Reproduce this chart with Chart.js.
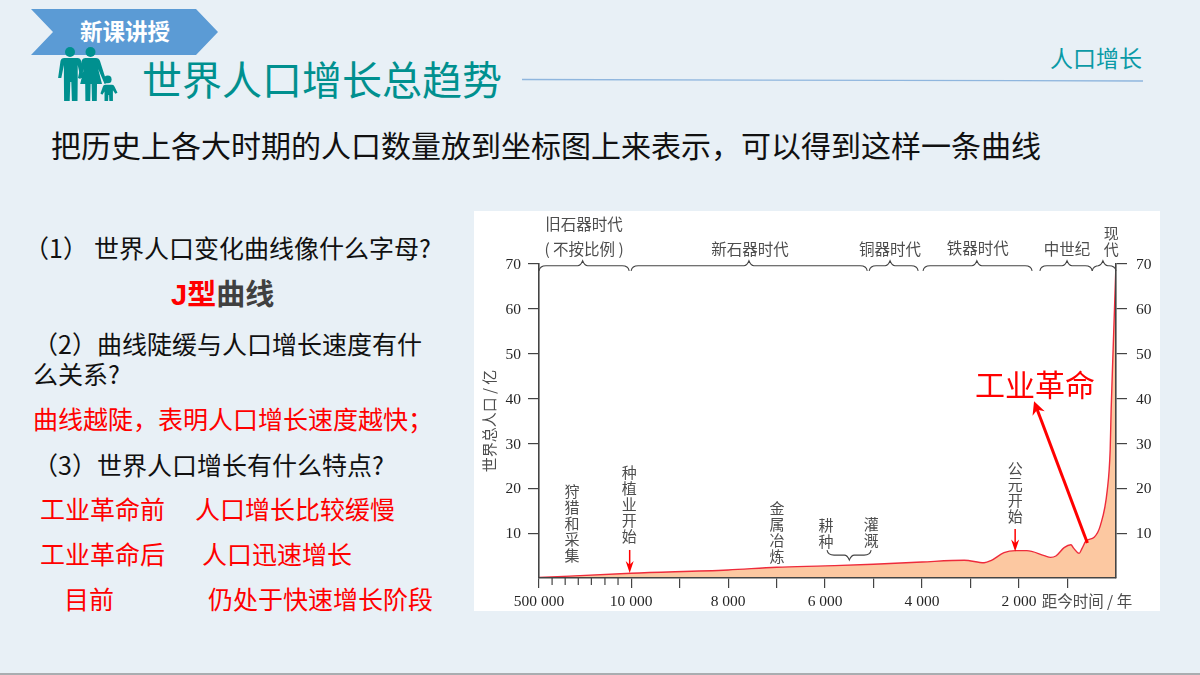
<!DOCTYPE html>
<html lang="zh">
<head>
<meta charset="utf-8">
<title>世界人口增长总趋势</title>
<script src="https://cdn.jsdelivr.net/npm/chart.js@4"></script>
<style>
  html, body { margin: 0; padding: 0; }
  body { width: 1200px; height: 675px; position: relative; overflow: hidden; background: #e8f0f6; font-family: "Noto Sans CJK SC", sans-serif; }
  .t { position: absolute; white-space: pre; line-height: 1; transform: translateY(-50%); font-size: 25px; color: #111; }
  .red { color: #ff0000; }
  #deco { position: absolute; left: 0; top: 0; }
  #panel { position: absolute; left: 474px; top: 211px; width: 686px; height: 400px; background: #fff; }
  #bottomline { position: absolute; left: 0; bottom: 0; width: 1200px; height: 2px; background: #a9adb0; }
</style>
</head>
<body>
<svg id="deco" width="1200" height="675">
  <polygon points="31,9 196,9 218,32 196,55 31,55 53,32" fill="#5b9bd5"/>
  <line x1="522" y1="79.5" x2="1143" y2="81" stroke="#8fb6de" stroke-width="1.3"/>
  <g fill="#00908f">
    <!-- man -->
    <circle cx="70" cy="52" r="5"/>
    <path d="M62.5 58h15q3 0 3.6 3l2.6 17h-3.2l-2.8-13v15l-.2 21h-5.6l-.6-19h-1l-.6 19h-5.6l-.2-21V65l-2.6 13h-3.2l2.4-17q.6-3 3.8-3z"/>
    <!-- woman -->
    <circle cx="90.5" cy="52" r="5"/>
    <path d="M85 58h11q3 0 4 3l7 22-2.4 1-6.4-15 3.8 15h-5l-.2 17h-4.8l-.4-17h-1l-.4 17h-4.8l-.2-17h-5l3.6-15-3.4 10-2.4-1 3.6-17q.8-3 4-3z"/>
    <!-- child -->
    <g transform="translate(108 101) scale(1.2) translate(-108 -101)">
      <circle cx="107.8" cy="83" r="3.2"/>
      <path d="M104 87.5h7.5q1.4 0 2 1.6l2.4 5-1.8.8-2-2.8v9h-3l-.2-5h-.6l-.2 5h-3v-8l-1.8 2.6-1.6-1 2-5.6q.3-1.6 2-1.6z"/>
    </g>
  </g>
</svg>

<div class="t" style="left:80px;top:30px;font-size:22.5px;font-weight:700;color:#fff">新课讲授</div>
<div class="t" style="left:142px;top:78px;font-size:40px;color:#00908f">世界人口增长总趋势</div>
<div class="t" style="left:1050px;top:57px;font-size:23px;color:#0a9aa6">人口增长</div>
<div class="t" style="left:51px;top:144px;font-size:30px">把历史上各大时期的人口数量放到坐标图上来表示，可以得到这样一条曲线</div>

<div class="t" style="left:24px;top:247px">（1）</div>
<div class="t" style="left:94px;top:247px">世界人口变化曲线像什么字母?</div>
<div class="t" style="left:171px;top:294px;font-size:29px;font-weight:700;color:#404040"><span class="red" style="font-family:'Liberation Sans'">J</span><span class="red">型</span>曲线</div>
<div class="t" style="left:33px;top:343px">（2）曲线陡缓与人口增长速度有什</div>
<div class="t" style="left:33px;top:373px">么关系?</div>
<div class="t red" style="left:33px;top:418px">曲线越陡，表明人口增长速度越快；</div>
<div class="t" style="left:33px;top:464px">（3）世界人口增长有什么特点?</div>
<div class="t red" style="left:40px;top:508px">工业革命前</div>
<div class="t red" style="left:195px;top:508px">人口增长比较缓慢</div>
<div class="t red" style="left:40px;top:553px">工业革命后</div>
<div class="t red" style="left:202px;top:553px">人口迅速增长</div>
<div class="t red" style="left:64px;top:598px">目前</div>
<div class="t red" style="left:208px;top:598px">仍处于快速增长阶段</div>

<div id="panel"><canvas id="popChart" width="686" height="400"></canvas></div>
<div id="bottomline"></div>

<script>
// 距今千年 (500 000 年一段是压缩画的, 放在轴的 11.9 处)
const yearsAgo = [11.9, 10, 8, 7, 6, 5, 4, 3.13, 2.72, 2.58, 2.31, 2.07, 1.84, 1.48, 1.35, 1.24, 1.07, 0.93, 0.87, 0.76, 0.70, 0.62, 0.45, 0.32, 0.18, 0.12, 0.10, 0.056, 0];
// 世界人口 (亿)
const population = [0.1, 1.05, 1.8, 2.4, 2.7, 3.05, 3.57, 3.95, 3.4, 3.87, 5.65, 6.1, 6.1, 5.0, 4.6, 4.9, 6.76, 7.4, 6.6, 5.5, 6.6, 8.25, 9.1, 11.8, 19.6, 28.6, 37.5, 52, 70];

// x 轴刻度
const xTicks = [11.9, 10, 9, 8, 7, 6, 5, 4, 3, 2, 1];
const xTickLabels = ["500 000", "10 000", "", "8 000", "", "6 000", "", "4 000", "", "2 000", ""];
const xMinorTicks = [11.63, 11.36, 11.09, 10.82, 10.54, 10.27];

// 时期的大括号 [左, 顶点, 右]
const eraBraces = [
  [11.9, 11.0, 10.04],
  [10.0, 7.57, 5.13],
  [5.09, 4.66, 4.08],
  [3.98, 2.87, 1.73],
  [1.57, 1.01, 0.49],
  [0.49, 0.27, 0],
];

const serif = "'Liberation Serif', serif";
const cjk = "'Noto Sans CJK SC', sans-serif";
const axisColor = "#444";
const textColor = "#262626";
const noteColor = "#4d4d4d";

const scaleFont = { family: serif, size: 15.5 };
const hideZero = (ctx) => (ctx.tick && ctx.tick.value === 0 ? "rgba(0,0,0,0)" : axisColor);

/* Source Code to draw the notes on top of the chart */
const notesPlugin = {
  id: "notes",
  afterDraw(chart) {
    const { ctx } = chart;
    const x = chart.scales.x;
    const y = chart.scales.y;
    const px = (v) => x.getPixelForValue(v);
    const py = (v) => y.getPixelForValue(v);

    const label = (text, xv, yv, size = 15.5, color = noteColor) => {
      ctx.font = `${size}px ${cjk}`;
      ctx.fillStyle = color;
      ctx.textAlign = "center";
      ctx.textBaseline = "middle";
      ctx.fillText(text, px(xv), py(yv));
    };
    // vertical text, one char under the other
    const stacked = (text, xv, yv) => {
      ctx.font = `15px ${cjk}`;
      ctx.fillStyle = noteColor;
      ctx.textAlign = "center";
      ctx.textBaseline = "middle";
      [...text].forEach((c, i) => ctx.fillText(c, px(xv), py(yv) + i * 16));
    };
    const brace = (left, tip, right, yv, dir = 1) => {
      const a = px(left), m = px(tip), b = px(right), yb = py(yv);
      ctx.beginPath();
      ctx.moveTo(a, yb + 5 * dir);
      ctx.quadraticCurveTo(a + 1, yb, a + 7, yb);
      ctx.lineTo(m - 5, yb);
      ctx.quadraticCurveTo(m - 2, yb, m, yb - 5 * dir);
      ctx.quadraticCurveTo(m + 2, yb, m + 5, yb);
      ctx.lineTo(b - 7, yb);
      ctx.quadraticCurveTo(b - 1, yb, b, yb + 5 * dir);
      ctx.strokeStyle = "#444";
      ctx.lineWidth = 1.1;
      ctx.stroke();
    };
    const arrow = (x0, y0, x1, y1, width, headLen, headWide) => {
      const ax = px(x0), ay = py(y0), bx = px(x1), by = py(y1);
      const ang = Math.atan2(by - ay, bx - ax);
      ctx.strokeStyle = "#f00";
      ctx.fillStyle = "#f00";
      ctx.lineWidth = width;
      ctx.beginPath();
      ctx.moveTo(ax, ay);
      ctx.lineTo(bx - Math.cos(ang) * headLen * 0.6, by - Math.sin(ang) * headLen * 0.6);
      ctx.stroke();
      ctx.save();
      ctx.translate(bx, by);
      ctx.rotate(ang);
      ctx.beginPath();
      ctx.moveTo(0, 0);
      ctx.lineTo(-headLen, headWide / 2);
      ctx.lineTo(-headLen * 0.7, 0);
      ctx.lineTo(-headLen, -headWide / 2);
      ctx.closePath();
      ctx.fill();
      ctx.restore();
    };

    // short ticks of the compressed part
    ctx.strokeStyle = axisColor;
    ctx.lineWidth = 1.2;
    xMinorTicks.forEach((t) => {
      ctx.beginPath();
      ctx.moveTo(px(t), y.bottom);
      ctx.lineTo(px(t), y.bottom + 7);
      ctx.stroke();
    });

    eraBraces.forEach((b) => brace(b[0], b[1], b[2], 69.6));
    brace(5.96, 5.5, 5.05, 5.1, -1);

    label("旧石器时代", 10.97, 78.8);
    label("( 不按比例 )", 10.97, 73.4);
    label("新石器时代", 7.55, 73.4);
    label("铜器时代", 4.66, 73.4);
    label("铁器时代", 2.85, 73.6);
    label("中世纪", 1.01, 73.4);
    stacked("现代", 0.1, 76.9);

    stacked("狩猎和采集", 11.22, 19.3);
    stacked("种植业开始", 10.04, 23.5);
    stacked("金属冶炼", 6.99, 15.6);
    stacked("耕种", 5.98, 11.8);
    stacked("灌溉", 5.05, 11.9);
    stacked("公元开始", 2.08, 24.5);

    arrow(10.03, 6.25, 10.03, 1.1, 1.5, 12, 8);
    arrow(2.08, 10.9, 2.08, 5.9, 1.5, 12, 8);
    arrow(0.59, 7.8, 1.69, 39.4, 3, 13, 13);

    label("工业革命", 1.67, 43.2, 30, "#f00");

    // x axis name sits on the tick label row
    ctx.font = `15.5px ${cjk}`;
    ctx.fillStyle = noteColor;
    ctx.textAlign = "center";
    ctx.textBaseline = "middle";
    ctx.fillText("距今时间 / 年", px(0.6), y.bottom + 23);
  },
};

const popChart = new Chart(document.getElementById("popChart"), {
  type: "line",
  data: {
    datasets: [
      {
        data: yearsAgo.map((v, i) => ({ x: v, y: population[i] })),
        borderColor: "#ee2b3b",
        borderWidth: 1.4,
        backgroundColor: "#fcc8a1",
        fill: "origin",
        pointRadius: 0,
        cubicInterpolationMode: "monotone",
        xAxisID: "x",
        yAxisID: "y",
      },
    ],
  },
  options: {
    responsive: false,
    animation: false,
    layout: { padding: { top: 53 } },
    plugins: {
      legend: { display: false },
      title: { display: false },
      tooltip: { enabled: false },
    },
    scales: {
      x: {
        type: "linear",
        reverse: true,
        min: 0,
        max: 11.9,
        afterBuildTicks: (scale) => {
          scale.ticks = xTicks.map((v) => ({ value: v }));
        },
        afterFit: (scale) => {
          scale.height = 33;
        },
        ticks: {
          autoSkip: false,
          maxRotation: 0,
          padding: 5,
          color: textColor,
          font: scaleFont,
          callback: (v, i) => xTickLabels[i],
        },
        grid: { drawOnChartArea: false, tickLength: 10, tickColor: axisColor, lineWidth: 1.2 },
        border: { color: axisColor, width: 1.6, z: 2 },
      },
      y: {
        position: "left",
        min: 0,
        max: 70,
        afterFit: (scale) => {
          scale.width = 65;
        },
        title: {
          display: true,
          text: "世界总人口 / 亿",
          color: noteColor,
          font: { family: cjk, size: 15 },
          padding: { top: 6, bottom: 0 },
        },
        ticks: {
          stepSize: 10,
          padding: 7,
          labelOffset: 1,
          color: textColor,
          font: scaleFont,
          callback: (v) => (v === 0 ? "" : v),
        },
        grid: { drawOnChartArea: false, tickLength: 11, tickColor: hideZero, lineWidth: 1.2 },
        border: { color: axisColor, width: 1.6, z: 2 },
      },
      y1: {
        position: "right",
        min: 0,
        max: 70,
        afterFit: (scale) => {
          scale.width = 44;
        },
        ticks: {
          stepSize: 10,
          padding: 9,
          labelOffset: 1,
          color: textColor,
          font: scaleFont,
          callback: (v) => (v === 0 ? "" : v),
        },
        grid: { drawOnChartArea: false, tickLength: 11, tickColor: hideZero, lineWidth: 1.2 },
        border: { color: axisColor, width: 1.6, z: 2 },
      },
    },
  },
  plugins: [notesPlugin],
});
</script>
</body>
</html>
